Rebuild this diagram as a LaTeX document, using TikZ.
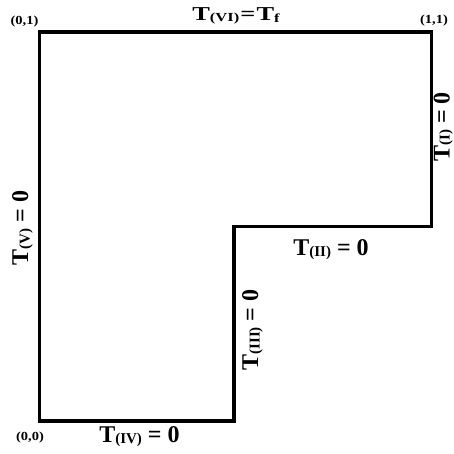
\documentclass[tikz,border=0pt]{standalone}
\usepackage{fontspec}
\setmainfont{Liberation Serif}
\newcommand{\sublbl}[1]{\raisebox{-1.5pt}{\fontsize{15}{15}\selectfont #1}}
\newcommand{\bclbl}[2]{\fontsize{24}{24}\selectfont\bfseries T\sublbl{(#1)} = #2}
\begin{document}
\begin{tikzpicture}[x=1pt,y=-1pt,
  wall/.style={line width=3.5pt, line join=miter, line cap=rect},
  lbl/.style={inner sep=0pt, anchor=base},
  corner/.style={inner sep=0pt, font=\fontsize{14.5}{14.5}\selectfont\bfseries}]
\useasboundingbox (0,0) rectangle (454,454);
\coordinate (A) at (39.5,32);
\coordinate (B) at (431.5,32);
\coordinate (C) at (431.5,226.5);
\coordinate (D) at (234,226.5);
\coordinate (E) at (234,421);
\coordinate (F) at (39.5,421);
\draw[wall] (A) -- (B) -- (C) -- (D) -- (E) -- (F) -- cycle;
% corner labels
\node[corner] (c01) at (24.5,21.5) {\scalebox{1}[0.85]{(0,1)}};
\node[corner] (c11) at (434,20.5) {\scalebox{1}[0.85]{(1,1)}};
\node[corner] (c00) at (30,437.5) {\scalebox{1}[0.85]{(0,0)}};
% boundary labels
\node[lbl] (lVI) at (236,20.5) {\scalebox{1.1}[0.82]{\fontsize{24}{24}\selectfont\bfseries T\sublbl{(VI)}\kern1pt=\kern1pt T\raisebox{-2pt}{\fontsize{15}{15}\selectfont f}}};
\node[lbl, rotate=90] (lI) at (449.5,127) {\fontsize{24}{24}\selectfont\bfseries T{\fontsize{15}{15}\selectfont (I)} = 0};
\node[lbl] (lII) at (331,255) {\bclbl{II}{0}};
\node[lbl, rotate=90] (lIII) at (258,330) {\bclbl{III}{0}};
\node[lbl] (lIV) at (139.5,442) {\bclbl{IV}{0}};
\node[lbl, rotate=90] (lV) at (28,228) {\bclbl{V}{0}};
\end{tikzpicture}
\end{document}
